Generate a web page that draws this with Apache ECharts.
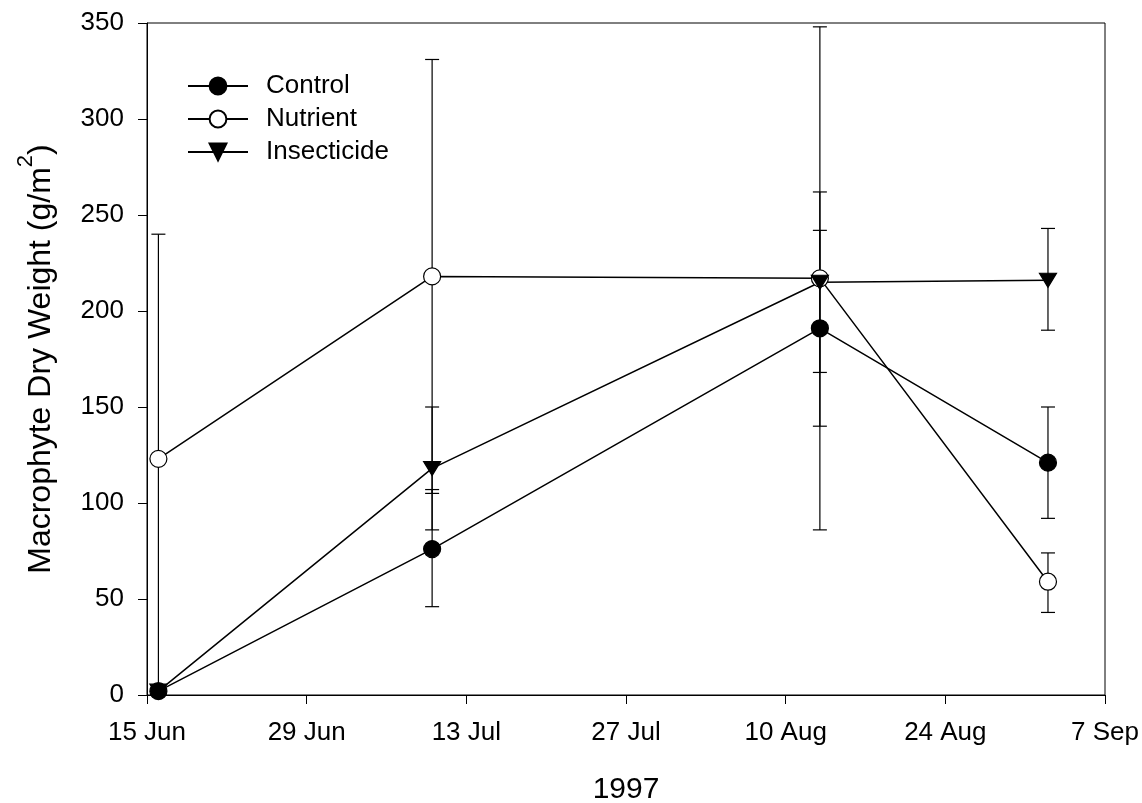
<!DOCTYPE html>
<html>
<head>
<meta charset="utf-8">
<script src="https://cdn.jsdelivr.net/npm/echarts@6/dist/echarts.min.js"></script>
<style>
html,body{margin:0;padding:0;background:#fff;}
#chart{width:1142px;height:803px;}
</style>
</head>
<body>
<div id="chart"></div>
<script>
// ---- data ----
const startDate = '1997-06-15';
const sampleDates = ['1997-06-16', '1997-07-10', '1997-08-13', '1997-09-02'];
const xTickLabels = ['15 Jun', '29 Jun', '13 Jul', '27 Jul', '10 Aug', '24 Aug', '7 Sep'];

const controlMean = [2, 76, 191, 121];
const controlHigh = [2, 107, 242, 150];
const controlLow  = [2, 46, 140, 92];

const nutrientMean = [123, 218, 217, 59];
const nutrientHigh = [240, 331, 348, 74];
const nutrientLow  = [5, 105, 86, 43];

const insecticideMean = [2, 118, 215, 216];
const insecticideHigh = [2, 150, 262, 243];
const insecticideLow  = [2, 86, 168, 190];

// ---- helpers ----
const DAY = 86400000;
function dayOffset(s) { return (Date.parse(s) - Date.parse(startDate)) / DAY; }
const xDays = sampleDates.map(dayOffset);
function pts(vals) { return vals.map((v, i) => [xDays[i], v]); }
function errs(lo, hi) { return lo.map((l, i) => [xDays[i], l, hi[i]]); }

const FONT = "'Liberation Sans', Arial, Helvetica, sans-serif";

function errorSeries(name, lo, hi) {
  return {
    type: 'custom',
    name: name + '_err',
    data: errs(lo, hi),
    z: 1,
    silent: true,
    renderItem: function (params, api) {
      const x = api.value(0);
      const p1 = api.coord([x, api.value(1)]);
      const p2 = api.coord([x, api.value(2)]);
      const cw = 7;
      const st = { stroke: '#000', lineWidth: 1.2 };
      return {
        type: 'group',
        children: [
          { type: 'line', shape: { x1: p1[0], y1: p1[1], x2: p2[0], y2: p2[1] }, style: st },
          { type: 'line', shape: { x1: p1[0] - cw, y1: p1[1], x2: p1[0] + cw, y2: p1[1] }, style: st },
          { type: 'line', shape: { x1: p2[0] - cw, y1: p2[1], x2: p2[0] + cw, y2: p2[1] }, style: st }
        ]
      };
    }
  };
}

function lineSeries(name, vals, symbol, size, fill, rotate) {
  return {
    type: 'line',
    name: name,
    data: pts(vals),
    symbol: symbol,
    symbolSize: size,
    symbolRotate: rotate || 0,
    showAllSymbol: true,
    z: 3,
    lineStyle: { color: '#000', width: 1.5 },
    itemStyle: { color: fill, borderColor: '#000', borderWidth: 1.2 },
    emphasis: { disabled: true },
    animation: false
  };
}

const chart = echarts.init(document.getElementById('chart'));
chart.setOption({
  animation: false,
  backgroundColor: '#fff',
  textStyle: { fontFamily: FONT, color: '#000' },
  grid: {
    left: 147, right: 37, top: 23, bottom: 108,
    containLabel: false,
    outerBoundsMode: 'none',
    show: true, borderColor: '#000', borderWidth: 1, backgroundColor: 'transparent'
  },
  legend: {
    orient: 'vertical',
    left: 182, top: 68,
    itemWidth: 60, itemHeight: 21,
    itemGap: 7,
    data: ['Control', 'Nutrient', 'Insecticide'],
    textStyle: { fontFamily: FONT, fontSize: 26, color: '#000', padding: [0, 0, 0, 13] },
    selectedMode: false
  },
  xAxis: {
    type: 'value',
    min: 0, max: 84, interval: 14,
    name: '1997',
    nameLocation: 'middle',
    nameGap: 80,
    nameTextStyle: { fontFamily: FONT, fontSize: 30, color: '#000' },
    axisLine: { show: true, onZero: false, lineStyle: { color: '#000', width: 1 } },
    axisTick: { show: true, inside: false, length: 9, lineStyle: { color: '#000', width: 1 } },
    axisLabel: {
      fontFamily: FONT, fontSize: 26, color: '#000', margin: 25,
      formatter: function (v) { return xTickLabels[Math.round(v / 14)]; }
    },
    splitLine: { show: false }
  },
  yAxis: {
    type: 'value',
    min: 0, max: 350, interval: 50,
    name: '{t|Macrophyte Dry Weight (g/m}{sup|2}{t|)}',
    nameLocation: 'middle',
    nameGap: 90,
    nameRotate: 90,
    nameTextStyle: {
      fontFamily: FONT, fontSize: 32, color: '#000',
      rich: {
        t: { fontFamily: FONT, fontSize: 32, color: '#000', verticalAlign: 'bottom' },
        sup: { fontFamily: FONT, fontSize: 22, color: '#000', verticalAlign: 'bottom', padding: [0, 0, 20, 0] }
      }
    },
    axisLine: { show: true, lineStyle: { color: '#000', width: 1 } },
    axisTick: { show: true, inside: false, length: 9, lineStyle: { color: '#000', width: 1 } },
    axisLabel: { fontFamily: FONT, fontSize: 26, color: '#000', margin: 23 },
    splitLine: { show: false }
  },
  series: [
    errorSeries('Control', controlLow, controlHigh),
    errorSeries('Nutrient', nutrientLow, nutrientHigh),
    errorSeries('Insecticide', insecticideLow, insecticideHigh),
    lineSeries('Control', controlMean, 'circle', 17, '#000'),
    lineSeries('Nutrient', nutrientMean, 'circle', 17, '#fff'),
    lineSeries('Insecticide', insecticideMean, 'triangle', [17, 14], '#000', 180)
  ]
});
</script>
</body>
</html>
